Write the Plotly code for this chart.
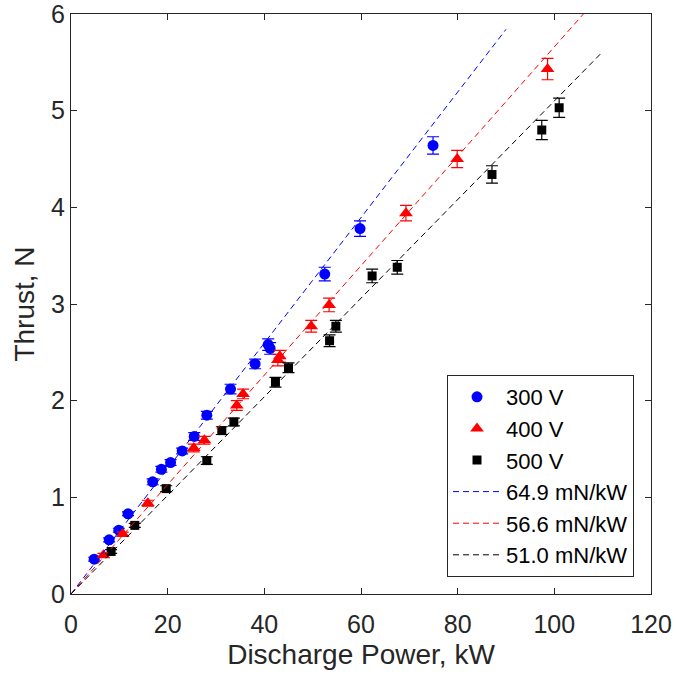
import plotly.graph_objects as go

# 300 V
p300 = [4.8, 7.9, 9.9, 11.8, 16.9, 18.7, 20.6, 23.0, 25.5, 28.1, 33.0, 38.1, 40.8, 41.2, 52.5, 59.8, 74.9]
t300 = [0.36, 0.56, 0.66, 0.83, 1.16, 1.29, 1.36, 1.48, 1.63, 1.85, 2.12, 2.38, 2.58, 2.54, 3.31, 3.78, 4.64]
e300 = [0.02, 0.02, 0.02, 0.02, 0.03, 0.03, 0.03, 0.03, 0.04, 0.04, 0.05, 0.05, 0.06, 0.06, 0.07, 0.08, 0.09]
# 400 V
p400 = [6.7, 10.7, 15.9, 25.4, 27.6, 34.3, 35.6, 42.8, 43.2, 49.7, 53.4, 69.3, 79.9, 98.6]
t400 = [0.40, 0.62, 0.94, 1.51, 1.59, 1.95, 2.07, 2.42, 2.46, 2.77, 2.99, 3.94, 4.50, 5.43]
e400 = [0.02, 0.02, 0.03, 0.04, 0.04, 0.05, 0.05, 0.06, 0.06, 0.06, 0.07, 0.08, 0.09, 0.11]
# 500 V
p500 = [8.3, 13.2, 19.7, 28.1, 31.2, 33.7, 42.3, 45.0, 53.5, 54.8, 62.3, 67.5, 87.1, 97.4, 101.0]
t500 = [0.44, 0.71, 1.09, 1.38, 1.69, 1.78, 2.19, 2.34, 2.62, 2.77, 3.29, 3.38, 4.34, 4.80, 5.03]
e500 = [0.02, 0.02, 0.03, 0.04, 0.04, 0.04, 0.05, 0.05, 0.06, 0.06, 0.07, 0.07, 0.09, 0.10, 0.10]

# Linear fits (mN/kW) and their power ranges
fit_labels = ["64.9 mN/kW", "56.6 mN/kW", "51.0 mN/kW"]
fit_slopes = [64.9, 56.6, 51.0]
fit_pmax = [90, 110, 110]
fit_colors = ["#0000ff", "#ff0000", "#000000"]

x_ticks = [0, 20, 40, 60, 80, 100, 120]
y_ticks = [0, 1, 2, 3, 4, 5, 6]

FONT = "Liberation Sans, Arial, Helvetica, sans-serif"
AX = "#262626"

fig = go.Figure()

series = [
    ("300 V", p300, t300, e300, "#0000ff", "circle", 11),
    ("400 V", p400, t400, e400, "#ff0000", "triangle-up", 12),
    ("500 V", p500, t500, e500, "#000000", "square", 9),
]
for name, px, ty, er, col, sym, sz in series:
    fig.add_trace(go.Scatter(
        x=px, y=ty, mode="markers", name=name,
        marker=dict(color=col, symbol=sym, size=sz, line=dict(width=0)),
        error_y=dict(type="data", array=er, visible=True, color=col, thickness=1.2, width=6),
    ))

for lab, slope, pm, col in zip(fit_labels, fit_slopes, fit_pmax, fit_colors):
    xs = [0, pm]
    ys = [0, slope * pm / 1000.0]
    fig.add_trace(go.Scatter(
        x=xs, y=ys, mode="lines", name=lab,
        line=dict(color=col, width=1, dash="6px,4px"),
    ))

axis_common = dict(
    showgrid=False, zeroline=False, showline=True, linecolor=AX, linewidth=1,
    mirror="ticks", ticks="inside", ticklen=6, tickcolor=AX, tickwidth=1,
    tickfont=dict(family=FONT, size=25, color=AX), automargin=False,
    ticklabeloverflow="allow",
)

fig.update_layout(
    width=676, height=677,
    margin=dict(l=71, r=25, t=14, b=83),
    paper_bgcolor="white", plot_bgcolor="white",
    font=dict(family=FONT, color=AX),
    xaxis=dict(range=[0, 120], tickvals=x_ticks, ticklabelstandoff=8,
               title=dict(text="Discharge Power, kW", font=dict(family=FONT, size=28, color=AX), standoff=7),
               **axis_common),
    yaxis=dict(range=[0, 6], tickvals=y_ticks,
               title=dict(text="Thrust, N", font=dict(family=FONT, size=28, color=AX), standoff=8),
               **axis_common),
    legend=dict(
        x=0.9707, y=0.0293, xanchor="right", yanchor="bottom",
        bgcolor="white", bordercolor=AX, borderwidth=1,
        font=dict(family=FONT, size=22, color="#000000"),
        itemwidth=48, tracegroupgap=0,
    ),
    showlegend=True,
)

fig.write_html(
    "out.html",
    config={"displayModeBar": False},
    post_script="document.body.style.margin='0';document.body.style.overflow='hidden';",
)
